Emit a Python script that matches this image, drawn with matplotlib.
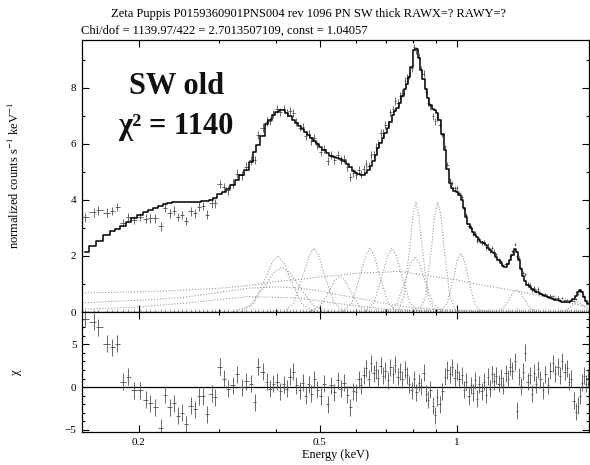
import numpy as np
import matplotlib
matplotlib.use('Agg')
import matplotlib.pyplot as plt
from matplotlib.ticker import FixedLocator, FixedFormatter, MultipleLocator, NullFormatter

plt.rcParams['font.family'] = ['Liberation Serif', 'DejaVu Serif']
plt.rcParams['mathtext.fontset'] = 'stix'
plt.rcParams['axes.unicode_minus'] = True

# ---- spectrum bins (keV), model (counts/s/keV), chi residuals, 1-sigma errors ----
e_low = [0.152, 0.159, 0.163, 0.170, 0.175, 0.179, 0.185, 0.189, 0.195, 0.201,
         0.207, 0.212, 0.217, 0.224, 0.228, 0.234, 0.239, 0.244, 0.249, 0.254,
         0.260, 0.266, 0.271, 0.277, 0.282, 0.289, 0.294, 0.301, 0.308, 0.314,
         0.322, 0.328, 0.337, 0.344, 0.353, 0.360, 0.365, 0.375, 0.382]
model_low = [2.14, 2.36, 2.55, 2.75, 2.88, 2.96, 3.08, 3.20, 3.35, 3.45,
             3.56, 3.64, 3.72, 3.80, 3.86, 3.89, 3.91, 3.92, 3.93, 3.93,
             3.93, 3.93, 3.93, 3.95, 3.97, 4.00, 4.07, 4.20, 4.30, 4.38,
             4.55, 4.70, 4.88, 5.08, 5.35, 5.70, 5.95, 6.30, 6.70]
chi_low = [8.0, 7.7, 7.0, 5.1, 4.7, 5.1, 0.6, 1.2, -0.4, -0.4,
           -1.5, -1.9, -2.4, -4.8, -0.9, -2.4, -1.9, -3.4, -3.0, -4.4,
           -2.2, -2.6, -1.1, -1.1, -3.2, -0.8, -1.2, 2.4, 1.0, -0.2,
           0.2, 1.5, 0.0, 0.7, 0.4, -1.8, 2.4, 1.8, 0.6]
err_low = [0.155] * 39

e_mid = [0.388, 0.395, 0.402, 0.409, 0.416, 0.423, 0.430, 0.437, 0.444, 0.451,
         0.458, 0.465, 0.472, 0.479, 0.486, 0.493, 0.502, 0.511, 0.520, 0.529,
         0.538, 0.547, 0.556, 0.565, 0.574, 0.583, 0.592]
model_mid = [6.85, 7.02, 7.15, 7.22, 7.22, 7.12, 7.00, 6.86, 6.75, 6.64,
             6.53, 6.43, 6.33, 6.22, 6.10, 5.99, 5.88, 5.77, 5.66, 5.57,
             5.52, 5.50, 5.46, 5.40, 5.30, 5.16, 5.04]
chi_mid = [-0.2, 0.4, 0.6, -0.5, 0.3, -0.2, 1.2, 1.8, 0.2, -0.4,
           0.5, -1.0, 0.3, -0.8, 0.9, -0.3, -1.1, 0.4, -2.0, 0.2,
           -0.6, 0.8, -0.2, 0.5, -0.9, -2.4, -0.5]
err_mid = [0.14] * 27

e_high = [0.600, 0.608, 0.616, 0.624, 0.632, 0.640, 0.648, 0.656, 0.664, 0.672,
          0.680, 0.688, 0.696, 0.705, 0.714, 0.723, 0.732, 0.741, 0.750, 0.759,
          0.768, 0.777, 0.786, 0.795, 0.805, 0.815, 0.825, 0.835, 0.845, 0.855,
          0.865, 0.875, 0.885, 0.895, 0.905, 0.917, 0.929, 0.941, 0.953, 0.965,
          0.977, 0.989, 1.001, 1.013, 1.025, 1.037, 1.049, 1.061, 1.073, 1.085,
          1.097, 1.109, 1.121, 1.133, 1.145, 1.157, 1.169, 1.181, 1.193, 1.205,
          1.220, 1.235, 1.250, 1.265, 1.280, 1.295, 1.310, 1.325, 1.340, 1.355,
          1.370, 1.385, 1.400, 1.415, 1.430, 1.445, 1.460, 1.475, 1.490, 1.505,
          1.525, 1.545, 1.565, 1.585, 1.605, 1.625, 1.645, 1.665, 1.685, 1.705,
          1.725, 1.745, 1.765, 1.785, 1.805, 1.825, 1.845, 1.865, 1.885, 1.905,
          1.925, 1.945]
model_high = [4.98, 4.93, 4.90, 4.90, 4.98, 5.08, 5.22, 5.40, 5.62, 5.85,
              6.05, 6.22, 6.40, 6.58, 6.80, 7.02, 7.18, 7.30, 7.45, 7.70,
              7.95, 8.15, 8.40, 8.75, 9.35, 9.40, 9.05, 8.65, 8.30, 7.95,
              7.65, 7.38, 7.25, 7.20, 7.10, 6.85, 6.35, 5.80, 5.10, 4.60,
              4.42, 4.33, 4.27, 4.18, 4.00, 3.70, 3.40, 3.15, 3.00, 2.85,
              2.75, 2.66, 2.58, 2.50, 2.45, 2.38, 2.30, 2.22, 2.16, 2.10,
              1.98, 1.85, 1.74, 1.64, 1.62, 1.70, 1.85, 2.05, 2.24, 2.15,
              1.85, 1.55, 1.30, 1.10, 0.98, 0.88, 0.82, 0.77, 0.73, 0.70,
              0.66, 0.62, 0.58, 0.54, 0.51, 0.47, 0.44, 0.42, 0.39, 0.37,
              0.36, 0.35, 0.35, 0.38, 0.45, 0.58, 0.72, 0.79, 0.70, 0.52,
              0.38, 0.28]
chi_high = [-0.6, 0.9, 0.2, 1.4, 2.2, 1.0, 2.8, 1.6, 2.0, 1.1,
            2.5, 1.3, 1.9, 0.8, 2.3, 1.5, 2.6, 1.2, 1.8, 0.9,
            2.1, 1.4, 0.3, -0.4, 0.9, -0.6, 0.5, 0.1, 1.7, -0.8,
            -1.5, -0.3, -2.2, -3.3, -1.2, -2.0, -0.5, 1.2, 2.0, 1.5,
            2.3, 1.1, 1.8, 0.9, 1.4, -0.3, 0.6, -1.1, 0.2, -0.7,
            0.8, -1.4, 0.3, -0.5, 0.6, -0.9, 1.2, -0.2, 1.5, 0.7,
            1.3, 0.4, 1.1, 0.2, 1.6, 1.0, 2.4, 1.9, 3.0, -2.8,
            1.2, 0.1, 1.8, 4.0, 0.6, 1.4, -0.8, 1.7, 0.3, 2.1,
            0.9, -0.4, 1.5, 0.2, 1.9, 2.8, 1.6, 2.4, 1.3, 3.0,
            1.8, 2.2, 0.6, 1.0, -1.6, -2.9, -2.2, -1.0, 0.5, 1.3,
            0.4, 1.1]
err_high = [0.14] * 24 + [0.12] * 11 + [0.08] * 25 + [0.06] * 20 + [0.04] * 22

# ---- dotted model components ----
cont1_e = [0.15, 0.20, 0.25, 0.30, 0.35, 0.40, 0.50, 0.60, 0.75, 0.90, 1.00, 1.10, 1.20, 1.40, 1.60, 1.80, 1.95]
cont1_v = [0.68, 0.72, 0.78, 0.85, 0.95, 1.08, 1.25, 1.38, 1.45, 1.25, 1.15, 1.00, 0.90, 0.70, 0.50, 0.30, 0.18]
cont2_e = [0.15, 0.20, 0.25, 0.30, 0.35, 0.40, 0.45, 0.50, 0.60, 0.70, 0.80, 1.00, 1.20]
cont2_v = [0.33, 0.42, 0.52, 0.70, 0.85, 0.90, 0.85, 0.75, 0.50, 0.30, 0.15, 0.05, 0.02]
cont3_e = [0.15, 0.20, 0.27, 0.30, 0.35, 0.45, 0.55, 0.70, 0.90]
cont3_v = [0.10, 0.18, 0.36, 0.45, 0.55, 0.50, 0.30, 0.10, 0.03]

g1_e = [0.336, 0.357, 0.380, 0.392, 0.404, 0.417, 0.429, 0.457, 0.485]
g1_v = [0.02, 0.28, 1.22, 1.76, 2.00, 1.76, 1.22, 0.28, 0.02]
g2_e = [0.323, 0.351, 0.380, 0.396, 0.412, 0.429, 0.447, 0.484, 0.525]
g2_v = [0.02, 0.22, 0.98, 1.41, 1.60, 1.41, 0.98, 0.22, 0.02]
g3_e = [0.417, 0.438, 0.461, 0.473, 0.485, 0.498, 0.510, 0.537, 0.565]
g3_v = [0.02, 0.32, 1.39, 2.00, 2.28, 2.00, 1.39, 0.32, 0.02]
g4_e = [0.475, 0.500, 0.526, 0.539, 0.553, 0.567, 0.582, 0.612, 0.644]
g4_v = [0.01, 0.18, 0.78, 1.13, 1.28, 1.13, 0.78, 0.18, 0.01]
g5_e = [0.561, 0.588, 0.615, 0.630, 0.644, 0.659, 0.674, 0.706, 0.739]
g5_v = [0.02, 0.32, 1.39, 2.00, 2.28, 2.00, 1.39, 0.32, 0.02]
g6_e = [0.628, 0.657, 0.688, 0.704, 0.720, 0.737, 0.754, 0.789, 0.826]
g6_v = [0.02, 0.32, 1.39, 2.00, 2.28, 2.00, 1.39, 0.32, 0.02]
g7_e = [0.742, 0.765, 0.789, 0.801, 0.813, 0.825, 0.838, 0.864, 0.891]
g7_v = [0.04, 0.55, 2.40, 3.46, 3.93, 3.46, 2.40, 0.55, 0.04]
g8_e = [0.705, 0.738, 0.773, 0.791, 0.809, 0.828, 0.847, 0.887, 0.928]
g8_v = [0.02, 0.28, 1.20, 1.73, 1.97, 1.73, 1.20, 0.28, 0.02]
g9_e = [0.828, 0.854, 0.881, 0.894, 0.908, 0.922, 0.936, 0.965, 0.995]
g9_v = [0.04, 0.55, 2.40, 3.46, 3.93, 3.46, 2.40, 0.55, 0.04]
g10_e = [0.917, 0.951, 0.985, 1.002, 1.020, 1.038, 1.057, 1.094, 1.134]
g10_v = [0.02, 0.29, 1.28, 1.85, 2.10, 1.85, 1.28, 0.29, 0.02]
g11_e = [1.219, 1.263, 1.308, 1.331, 1.355, 1.379, 1.404, 1.454, 1.507]
g11_v = [0.01, 0.11, 0.49, 0.70, 0.80, 0.70, 0.49, 0.11, 0.01]
g12_e = [1.684, 1.736, 1.790, 1.817, 1.845, 1.873, 1.902, 1.945]
g12_v = [0.01, 0.05, 0.21, 0.31, 0.35, 0.31, 0.21, 0.07]

title1 = "Zeta Puppis P0159360901PNS004 rev 1096 PN SW thick RAWX=? RAWY=?"
title2 = "Chi/dof = 1139.97/422 = 2.7013507109, const = 1.04057"

# ---- assemble ----
energy = np.array(e_low + e_mid + e_high)
model = np.array(model_low + model_mid + model_high)
chi = np.array(chi_low + chi_mid + chi_high)
err = np.array(err_low + err_mid + err_high)
counts = model + chi * err  # XSPEC: chi = (data - model) / error

edges = np.sqrt(energy[:-1] * energy[1:])
lo = np.concatenate([[energy[0] ** 2 / edges[0]], edges])
hi = np.concatenate([edges, [energy[-1] ** 2 / edges[-1]]])
xerr = [energy - lo, hi - energy]

components = [(cont1_e, cont1_v), (cont2_e, cont2_v), (cont3_e, cont3_v),
              (g1_e, g1_v), (g2_e, g2_v), (g3_e, g3_v), (g4_e, g4_v),
              (g5_e, g5_v), (g6_e, g6_v), (g7_e, g7_v), (g8_e, g8_v),
              (g9_e, g9_v), (g10_e, g10_v), (g11_e, g11_v), (g12_e, g12_v)]

fig = plt.figure(figsize=(5.9, 4.65), dpi=100)
ax1 = fig.add_axes([0.139, 0.329, 0.859, 0.585])
ax2 = fig.add_axes([0.139, 0.071, 0.859, 0.258], sharex=ax1)

for ce, cv in components:
    ax1.plot(ce, cv, color='#999999', lw=0.8, ls=(0, (1, 1.6)))
ax1.vlines(energy, 0, 0.12, color='#888888', lw=0.5)
ax1.errorbar(energy, counts, xerr=xerr, yerr=err, fmt='none',
             ecolor='#505050', elinewidth=0.6)
ax1.step(energy, model, where='mid', color='black', lw=1.1)

ax2.axhline(0, color='black', lw=0.9)
ax2.errorbar(energy, chi, xerr=xerr, yerr=1.0, fmt='none',
             ecolor='#505050', elinewidth=0.6)

ax1.set_xscale('log')
ax1.set_xlim(0.150, 1.950)
ax1.set_ylim(0, 9.71)
ax2.set_ylim(-5.29, 8.82)

for ax in (ax1, ax2):
    ax.xaxis.set_major_locator(FixedLocator([0.2, 0.5, 1.0]))
    ax.xaxis.set_minor_locator(FixedLocator([0.3, 0.4, 0.6, 0.7, 0.8, 0.9]))
    ax.xaxis.set_minor_formatter(NullFormatter())
    ax.yaxis.set_minor_locator(MultipleLocator(1))
    ax.tick_params(which='both', direction='in', top=True, right=True,
                   labelsize=8, width=0.8, pad=4)
    ax.tick_params(which='major', length=5)
    ax.tick_params(which='minor', length=2.5)
    for s in ax.spines.values():
        s.set_linewidth(0.9)

ax1.yaxis.set_major_locator(FixedLocator([0, 2, 4, 6, 8]))
ax2.yaxis.set_major_locator(FixedLocator([-5, 0, 5]))
ax1.tick_params(labelbottom=False)
ax2.xaxis.set_major_formatter(FixedFormatter(['0.2', '0.5', '1']))

ax1.set_ylabel(r'normalized counts s$^{-1}$ keV$^{-1}$', fontsize=9)
ax1.yaxis.set_label_coords(-0.118, 0.5)
ax2.set_ylabel('χ', fontsize=9)
ax2.yaxis.set_label_coords(-0.118, 0.5)
ax2.set_xlabel('Energy (keV)', fontsize=8.8, labelpad=2)

fig.text(0.523, 0.970, title1, ha='center', va='center', fontsize=9)
fig.text(0.137, 0.933, title2, ha='left', va='center', fontsize=9)

fig.text(0.300, 0.813, 'SW old', ha='center', va='center', fontsize=22,
         fontweight='bold', color='#111111')
fig.text(0.298, 0.727, 'χ² = 1140', ha='center', va='center', fontsize=22,
         fontweight='bold', color='#111111')

fig.savefig('out.png', dpi=100)
